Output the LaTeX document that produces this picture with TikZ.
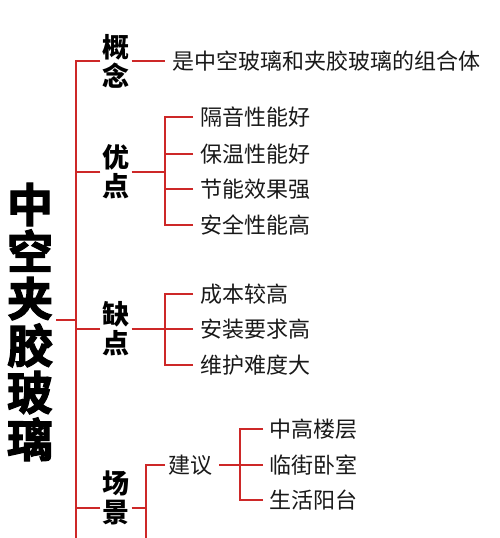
\documentclass[tikz,border=0pt]{standalone}
\usepackage{fontspec}
\setmainfont{Noto Sans CJK SC}
\newfontfamily\cjk{Noto Sans CJK SC}
\newfontfamily\cjkheavy[FakeBold=2.5]{Noto Sans CJK SC Bold}
\definecolor{linered}{RGB}{205,40,40}
\begin{document}
\begin{tikzpicture}[x=1pt,y=-1pt,
  titlebox/.style={inner sep=0pt,align=center,font=\cjkheavy\fontsize{46}{47}\selectfont},
  catbox/.style={inner sep=2pt,align=center,font=\cjk\bfseries\fontsize{27}{29}\selectfont},
  leafbox/.style={inner ysep=2pt,inner xsep=7pt,anchor=west,font=\cjk\fontsize{22}{24}\selectfont,text=black!90},
  conn/.style={draw=linered,line width=1.3pt}]
\useasboundingbox (0,0) rectangle (500,538);
\fill[white] (0,0) rectangle (500,538);
% root
\node[titlebox] (root) at (30,322) {中\\空\\夹\\胶\\玻\\璃};
\coordinate (sp) at (76,320);
\coordinate (spEnd) at (76,538);
% categories
\node[catbox] (c1) at (116,61) {概\\念};
\node[catbox] (c2) at (116,172) {优\\点};
\node[catbox] (c3) at (116,329) {缺\\点};
\node[catbox] (c4) at (116,498) {场\\景};
% spine
\draw[conn] (root.east |- sp) ++(3,0) -- (sp);
\draw[conn] (c1.west) -| (sp);
\draw[conn] (c2.west) -| (sp);
\draw[conn] (c3.west) -| (sp);
\draw[conn] (c4.west |- 0,508) -| (sp);
\draw[conn] (sp) -- (spEnd);
% concept
\node[leafbox] (d1) at (165,61) {是中空玻璃和夹胶玻璃的组合体};
\draw[conn] (c1.east) -- (d1.west);
% advantages
\coordinate (b2) at (165,172);
\node[leafbox] (a1) at (193,117) {隔音性能好};
\node[leafbox] (a2) at (193,154) {保温性能好};
\node[leafbox] (a3) at (193,189) {节能效果强};
\node[leafbox] (a4) at (193,225) {安全性能高};
\draw[conn] (c2.east) -- (b2);
\foreach \n in {a1,a2,a3,a4} \draw[conn] (\n.west) -| (b2);
% disadvantages
\coordinate (b3) at (165,329);
\node[leafbox] (e1) at (193,294) {成本较高};
\node[leafbox] (e2) at (193,329) {安装要求高};
\node[leafbox] (e3) at (193,365) {维护难度大};
\draw[conn] (c3.east) -- (b3);
\foreach \n in {e1,e2,e3} \draw[conn] (\n.west) -| (b3);
% scenes
\coordinate (b4) at (146,508);
\coordinate (b4End) at (146,538);
\draw[conn] (c4.east |- b4) -- (b4);
\node[leafbox,inner xsep=3pt] (s1) at (165,465) {建议};
\draw[conn] (s1.west) -| (b4);
\draw[conn] (b4) -- (b4End);
\coordinate (b5) at (240,465);
\node[leafbox,inner xsep=6pt] (r1) at (263,429) {中高楼层};
\node[leafbox,inner xsep=6pt] (r2) at (263,465) {临街卧室};
\node[leafbox,inner xsep=6pt] (r3) at (263,500) {生活阳台};
\draw[conn] (s1.east) ++(4,0) -- (b5);
\foreach \n in {r1,r2,r3} \draw[conn] (\n.west) -| (b5);
\end{tikzpicture}
\end{document}
